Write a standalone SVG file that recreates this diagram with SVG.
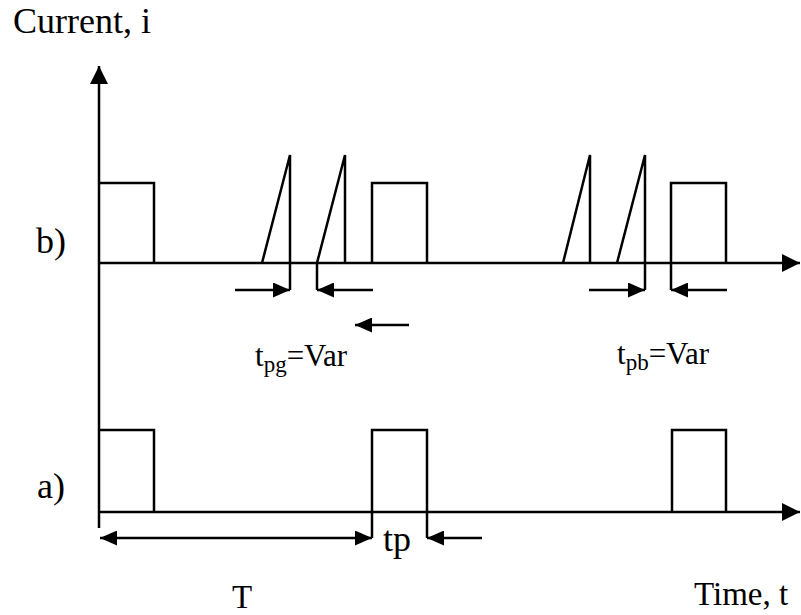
<svg xmlns="http://www.w3.org/2000/svg" width="801" height="615" viewBox="0 0 801 615">
<style>
.ln{fill:none;stroke:#000;stroke-width:2.5;stroke-linecap:butt;stroke-linejoin:miter}
.tx{font-family:"Liberation Serif","Times New Roman",serif;fill:#000}
</style>
<defs>
<marker id="ah" markerUnits="userSpaceOnUse" markerWidth="17" markerHeight="15" refX="17" refY="7.5" orient="auto"><path d="M0,0 L17,7.5 L0,15 z" fill="#000"/></marker>
<marker id="ahs" markerUnits="userSpaceOnUse" markerWidth="17" markerHeight="15" refX="17" refY="7.5" orient="auto-start-reverse"><path d="M0,0 L17,7.5 L0,15 z" fill="#000"/></marker>
<marker id="ax" markerUnits="userSpaceOnUse" markerWidth="18" markerHeight="18" refX="18" refY="9" orient="auto"><path d="M0,0 L18,9 L0,18 z" fill="#000"/></marker>
</defs>
<rect width="801" height="615" fill="#fff"/>
<g id="axes">
<path class="ln" d="M99,528 V66" marker-end="url(#ax)"/>
<path class="ln" d="M99,263 H800" marker-end="url(#ax)"/>
<path class="ln" d="M99,512 H800" marker-end="url(#ax)"/>
</g>
<g id="waveform-b">
<path class="ln" d="M99,183 H154 V263"/>
<path class="ln" d="M262,263 L290,155 V290"/>
<path class="ln" d="M317,290 V263 L345,155 V263"/>
<path class="ln" d="M372,263 V183 H427 V263"/>
<path class="ln" d="M563,263 L590,155 V263"/>
<path class="ln" d="M617,263 L645,155 V290"/>
<path class="ln" d="M671,290 V183 H726 V263"/>
</g>
<g id="waveform-a">
<path class="ln" d="M99,430 H154 V512"/>
<path class="ln" d="M372,538 V430 H427 V538"/>
<path class="ln" d="M672,512 V430 H726 V512"/>
</g>
<g id="connectors">
<path class="ln" d="M235,290 H290" marker-end="url(#ah)"/>
<path class="ln" d="M373,290 H317" marker-end="url(#ah)"/>
<path class="ln" d="M409,325 H355" marker-end="url(#ah)"/>
<path class="ln" d="M589,290 H645" marker-end="url(#ah)"/>
<path class="ln" d="M727,290 H671" marker-end="url(#ah)"/>
<path class="ln" d="M100,538 H372" marker-start="url(#ahs)" marker-end="url(#ahs)"/>
<path class="ln" d="M482,538 H427" marker-end="url(#ah)"/>
</g>
<g id="labels">
<text class="tx" x="13" y="33" font-size="36">Current, i</text>
<text class="tx" x="36" y="253" font-size="36">b)</text>
<text class="tx" x="37" y="498" font-size="36">a)</text>
<text class="tx" x="255" y="366" font-size="31">t<tspan font-size="23" dy="6">pg</tspan><tspan dy="-6">=Var</tspan></text>
<text class="tx" x="617" y="364" font-size="31">t<tspan font-size="23" dy="6">pb</tspan><tspan dy="-6">=Var</tspan></text>
<text class="tx" x="383" y="551" font-size="36">tp</text>
<text class="tx" x="232" y="608" font-size="33">T</text>
<text class="tx" x="694" y="605" font-size="33">Time, t</text>
</g>
</svg>
